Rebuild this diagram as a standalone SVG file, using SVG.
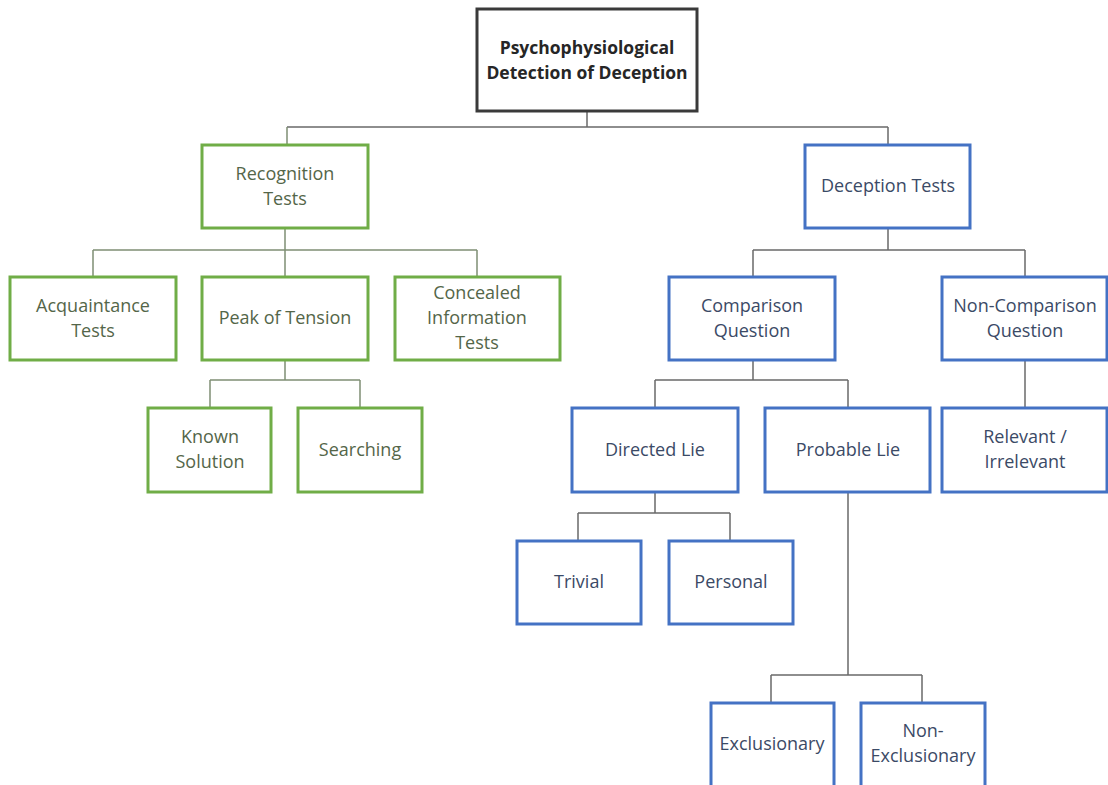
<svg xmlns="http://www.w3.org/2000/svg" width="1108" height="785" viewBox="0 0 1108 785">
<style>
text{font-family:"Open Sans","Noto Sans","Liberation Sans",sans-serif;font-size:18px;text-anchor:middle}
.g rect{fill:#fff;stroke:#70AD47;stroke-width:3}
.g text{fill:#546649}
.b rect{fill:#fff;stroke:#4472C4;stroke-width:3}
.b text{fill:#3B4A66}
.r rect{fill:#fff;stroke:#3a3a3a;stroke-width:3}
.r text{fill:#262626;font-weight:bold;font-size:17.5px}
.cg{fill:none;stroke:#7f8f74;stroke-width:1.5}
.cb{fill:none;stroke:#6a6a6a;stroke-width:1.5}
</style>
<rect width="1108" height="785" fill="#fff"/>
<g id="connectors">
<path class="cb" d="M587 111V127M287 127H888M888 127V145"/>
<path class="cg" d="M287 127V145M285 228V250M93 250H477M93 250V277M285 250V277M477 250V277"/>
<path class="cg" d="M285 360V380M210 380H360M210 380V408M360 380V408"/>
<path class="cb" d="M888 228V250M753 250H1025M753 250V277M1025 250V277"/>
<path class="cb" d="M753 360V380M655 380H848M655 380V408M848 380V408"/>
<path class="cb" d="M1025 360V408"/>
<path class="cb" d="M655 492V513M578 513H730M578 513V541M730 513V541"/>
<path class="cb" d="M848 492V675M771 675H922M771 675V703M922 675V703"/>
</g>
<g id="root" class="r"><rect x="477" y="9" width="220" height="102"/><text x="587" y="54">Psychophysiological</text><text x="587" y="79">Detection of Deception</text></g>
<g id="recognition" class="g"><rect x="202" y="145" width="166" height="83"/><text x="285" y="180">Recognition</text><text x="285" y="205">Tests</text></g>
<g id="acquaintance" class="g"><rect x="10" y="277" width="166" height="83"/><text x="93" y="312">Acquaintance</text><text x="93" y="337">Tests</text></g>
<g id="peak" class="g"><rect x="202" y="277" width="166" height="83"/><text x="285" y="324">Peak of Tension</text></g>
<g id="concealed" class="g"><rect x="395" y="277" width="165" height="83"/><text x="477" y="299">Concealed</text><text x="477" y="324">Information</text><text x="477" y="349">Tests</text></g>
<g id="known" class="g"><rect x="148" y="408" width="123" height="84"/><text x="210" y="443">Known</text><text x="210" y="468">Solution</text></g>
<g id="searching" class="g"><rect x="298" y="408" width="124" height="84"/><text x="360" y="456">Searching</text></g>
<g id="deception" class="b"><rect x="805" y="145" width="165" height="83"/><text x="888" y="192">Deception Tests</text></g>
<g id="comparison" class="b"><rect x="669" y="277" width="166" height="83"/><text x="752" y="312">Comparison</text><text x="752" y="337">Question</text></g>
<g id="noncomparison" class="b"><rect x="942" y="277" width="165" height="83"/><text x="1025" y="312">Non-Comparison</text><text x="1025" y="337">Question</text></g>
<g id="directed" class="b"><rect x="572" y="408" width="166" height="84"/><text x="655" y="456">Directed Lie</text></g>
<g id="probable" class="b"><rect x="765" y="408" width="165" height="84"/><text x="848" y="456">Probable Lie</text></g>
<g id="relevant" class="b"><rect x="942" y="408" width="165" height="84"/><text x="1025" y="443">Relevant /</text><text x="1025" y="468">Irrelevant</text></g>
<g id="trivial" class="b"><rect x="517" y="541" width="124" height="83"/><text x="579" y="588">Trivial</text></g>
<g id="personal" class="b"><rect x="669" y="541" width="124" height="83"/><text x="731" y="588">Personal</text></g>
<g id="exclusionary" class="b"><rect x="711" y="703" width="123" height="84"/><text x="772" y="750">Exclusionary</text></g>
<g id="nonexclusionary" class="b"><rect x="861" y="703" width="124" height="84"/><text x="923" y="737">Non-</text><text x="923" y="762">Exclusionary</text></g>
</svg>
